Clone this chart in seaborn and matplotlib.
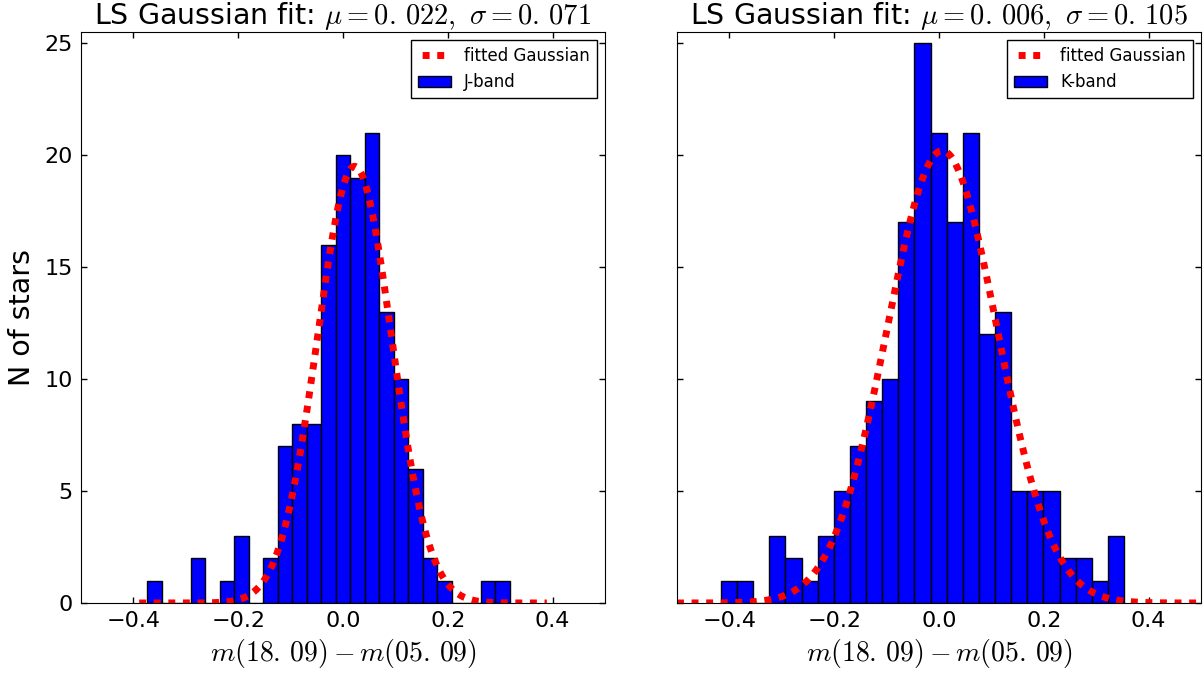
import numpy as np
import pandas as pd
import matplotlib
matplotlib.use("Agg")
import matplotlib.pyplot as plt
import seaborn as sns
from matplotlib.lines import Line2D
from matplotlib.patches import Patch

# histogram data (25 bins per panel)
j_range = (-0.3736, 0.318)
j_counts = [1, 0, 0, 2, 0, 1, 3, 0, 2, 7, 8, 8, 16, 20, 19, 21, 13, 10, 6, 2, 1, 0, 0, 1, 1]
k_range = (-0.4163, 0.3532)
k_counts = [1, 1, 0, 3, 2, 1, 3, 5, 7, 9, 10, 17, 25, 21, 17, 21, 12, 13, 5, 5, 5, 2, 2, 1, 3]

# fitted gaussian parameters (from the titles), amplitude
j_mu, j_sigma, j_amp = 0.022, 0.071, 19.5
k_mu, k_sigma, k_amp = 0.006, 0.105, 20.2
j_curve_span = (-0.389, 0.389)
k_curve_span = (-0.5, 0.5)

bands = ["J-band", "K-band"]
xticks = [-0.4, -0.2, 0.0, 0.2, 0.4]
yticks = [0, 5, 10, 15, 20, 25]

sns.set_style("ticks", rc={
    "xtick.direction": "in", "ytick.direction": "in",
    "xtick.top": True, "ytick.right": True,
    "axes.edgecolor": "black", "axes.linewidth": 1.0,
    "text.color": "black", "axes.labelcolor": "black",
    "xtick.color": "black", "ytick.color": "black",
})
plt.rcParams["font.family"] = ["DejaVu Sans"]
plt.rcParams["mathtext.fontset"] = "cm"
plt.rcParams["xtick.major.size"] = 4
plt.rcParams["ytick.major.size"] = 4

fig = plt.figure(figsize=(12.04, 6.75), dpi=100)
ax1 = fig.add_axes([81 / 1204, 72 / 675, 524 / 1204, 571 / 675])
ax2 = fig.add_axes([677 / 1204, 72 / 675, 524 / 1204, 571 / 675], sharey=ax1)

panels = [
    (ax1, j_range, j_counts, j_mu, j_sigma, j_amp, j_curve_span, bands[0]),
    (ax2, k_range, k_counts, k_mu, k_sigma, k_amp, k_curve_span, bands[1]),
]

for ax, rng, counts, mu, sig, amp, span, band in panels:
    edges = np.linspace(rng[0], rng[1], len(counts) + 1)
    df = pd.DataFrame({"x": 0.5 * (edges[:-1] + edges[1:]), "n": counts})
    sns.histplot(data=df, x="x", weights="n", bins=len(counts), binrange=rng,
                 stat="count", color="blue", alpha=1, edgecolor="black",
                 linewidth=1, ax=ax)
    gx = np.linspace(span[0], span[1], 400)
    gy = amp * np.exp(-(gx - mu) ** 2 / (2 * sig ** 2))
    sns.lineplot(x=gx, y=gy, color="red", lw=5, linestyle=(0, (1, 1.1)), ax=ax)

    ax.set_xlim(-0.5, 0.5)
    ax.set_ylim(0, 25.5)
    ax.set_xticks(xticks)
    ax.set_yticks(yticks)
    ax.tick_params(labelsize=16, width=1, color="black", pad=6)
    ax.set_xlabel(r"$m(18.\,09)-m(05.\,09)$", fontsize=20, labelpad=4)
    ax.set_ylabel("")
    mu_s = f"{mu:.3f}".replace(".", r".\,")
    sig_s = f"{sig:.3f}".replace(".", r".\,")
    ax.set_title(r"LS Gaussian fit: $\mu=" + mu_s + r",\ \sigma=" + sig_s + "$",
                 fontsize=20.5, pad=4)

    handles = [Line2D([], [], color="red", lw=5, linestyle=(1.5, (1, 1.1))),
               Patch(facecolor="blue", edgecolor="black")]
    leg = ax.legend(handles, ["fitted Gaussian", band], loc="upper right",
                    fontsize=12, fancybox=False, framealpha=1, edgecolor="black",
                    borderaxespad=0.5)
    leg.get_frame().set_linewidth(1)

ax1.set_ylabel("N of stars", fontsize=20.5, labelpad=6)
ax2.tick_params(labelleft=False)

fig.savefig("out.png", dpi=100, facecolor="white")
